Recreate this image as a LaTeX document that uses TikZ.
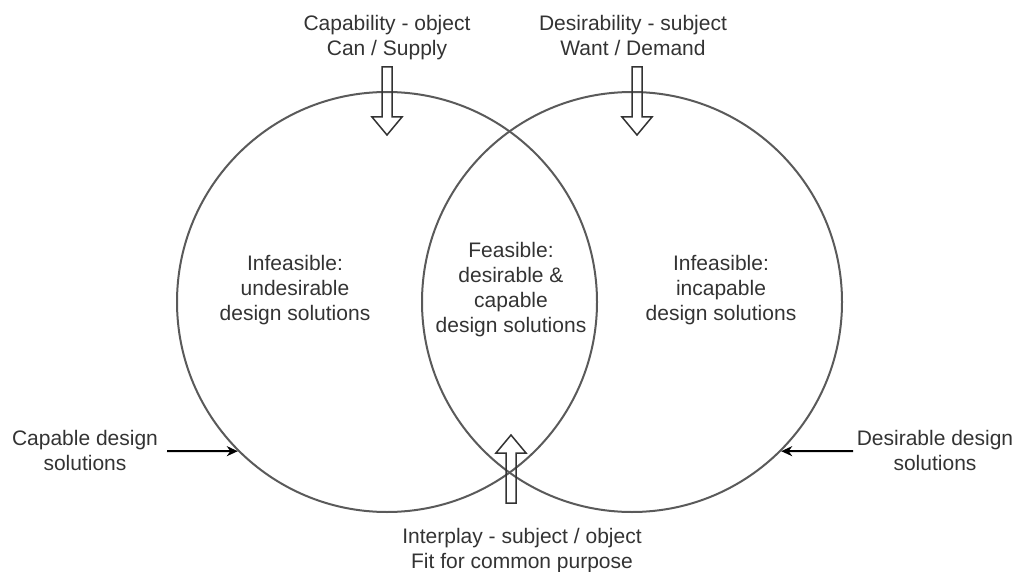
\documentclass[tikz,border=0pt]{standalone}
\usepackage{fontspec}
\setmainfont{Liberation Sans}
\usetikzlibrary{arrows.meta}
\definecolor{ringgray}{HTML}{5A5A5A}
\definecolor{inkgray}{HTML}{333333}
\begin{document}
\begin{tikzpicture}[x=1pt,y=-1pt,
  ring/.style={circle,draw=ringgray,line width=2pt,minimum size=420pt,inner sep=0pt},
  label/.style={font=\fontsize{21}{25}\selectfont,text=inkgray,align=center,inner sep=0pt,anchor=north},
  hollow/.style={draw=inkgray,line width=1.5pt,line join=miter},
  pointer/.style={draw=black,line width=2pt,-{Stealth[length=11pt,width=10pt]}},
  fatarrow/.pic={\draw[hollow] (-5,0) -- (-5,50) -- (-15,50) -- (0,68) -- (15,50) -- (5,50) -- (5,0) -- cycle;}
]
\useasboundingbox (0,0) rectangle (1014,572);

% the two sets
\node[ring] (L) at (387,302) {};
\node[ring] (R) at (632,302) {};

% region captions
\node[label] (undes) at (295,255) {Infeasible:\\undesirable\\design solutions};
\node[label] (feas)  at (511,242) {Feasible:\\desirable \&\\capable\\design solutions};
\node[label] (incap) at (721,255) {Infeasible:\\incapable\\design solutions};

% driving forces
\node[label] (cap) at (387,15)  {Capability - object\\Can / Supply};
\node[label] (des) at (633,15)  {Desirability - subject\\Want / Demand};
\node[label] (int) at (522,528) {Interplay - subject / object\\Fit for common purpose};

\pic at (387,67) {fatarrow};
\pic at (637,67) {fatarrow};
\pic[rotate=180] at (511,503) {fatarrow};

% set names with pointers onto the circles
\node[label] (capsol) at (85,430)  {Capable design\\solutions};
\node[label] (dessol) at (935,430) {Desirable design\\solutions};
\coordinate (capfrom) at (167,451);
\coordinate (desfrom) at (853,451);
\draw[pointer] (capfrom) -- (L.225);
\draw[pointer] (desfrom) -- (R.-45);
\end{tikzpicture}
\end{document}
